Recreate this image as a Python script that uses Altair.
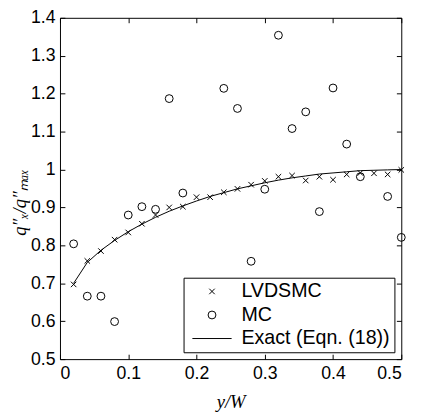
import altair as alt
import pandas as pd

# ---- data ----
x_lv = [0.02, 0.04, 0.06, 0.08, 0.10, 0.12, 0.14, 0.16, 0.18, 0.20, 0.22, 0.24, 0.26,
        0.28, 0.30, 0.32, 0.34, 0.36, 0.38, 0.40, 0.42, 0.44, 0.46, 0.48, 0.50]
lv = [0.697, 0.759, 0.785, 0.815, 0.834, 0.857, 0.880, 0.900, 0.902, 0.927, 0.927, 0.940, 0.949,
      0.960, 0.970, 0.981, 0.984, 0.971, 0.981, 0.973, 0.987, 0.991, 0.990, 0.987, 0.999]

x_mc = [0.02, 0.04, 0.06, 0.08, 0.10, 0.12, 0.14, 0.16, 0.18, 0.24, 0.26, 0.28, 0.30,
        0.32, 0.34, 0.36, 0.38, 0.40, 0.42, 0.44, 0.48, 0.50]
mc = [0.804, 0.666, 0.666, 0.599, 0.880, 0.902, 0.895, 1.187, 0.938, 1.214, 1.161, 0.758, 0.948,
      1.354, 1.108, 1.152, 0.889, 1.215, 1.067, 0.981, 0.929, 0.821]

x_ex = [0.02, 0.04, 0.06, 0.08, 0.10, 0.12, 0.14, 0.16, 0.18, 0.20, 0.22, 0.24, 0.26,
        0.28, 0.30, 0.32, 0.34, 0.36, 0.38, 0.40, 0.42, 0.44, 0.46, 0.48, 0.50]
ex = [0.700, 0.755, 0.787, 0.813, 0.836, 0.856, 0.874, 0.890, 0.904, 0.917, 0.929, 0.939, 0.949,
      0.957, 0.965, 0.972, 0.978, 0.983, 0.988, 0.991, 0.994, 0.997, 0.998, 0.999, 1.000]

series_names = ["LVDSMC", "MC", "Exact (Eqn. (18))"]
x_ticks = [0, 0.1, 0.2, 0.3, 0.4, 0.5]
y_ticks = [0.5, 0.6, 0.7, 0.8, 0.9, 1.0, 1.1, 1.2, 1.3, 1.4]

pts = pd.DataFrame({
    "x": x_lv + x_mc,
    "y": lv + mc,
    "series": [series_names[0]] * len(lv) + [series_names[1]] * len(mc),
})
exact = pd.DataFrame({"x": x_ex, "y": ex})

X_PATH = "M-0.7,-0.7L0.7,0.7M-0.7,0.7L0.7,-0.7"
LINE_PATH = "M-5,0L5,0"

SANS = "Liberation Sans"
SERIF = "Liberation Serif"

xs = alt.Scale(domain=[0, 0.5], nice=False, zero=False)
ys = alt.Scale(domain=[0.5, 1.4], nice=False, zero=False)

common = dict(offset=-5, tickSize=5, domain=False, grid=False, tickColor="black",
              tickWidth=1, labelFont=SANS, labelFontSize=18, labelColor="black")

points = alt.Chart(pts).mark_point(filled=False, size=64, color="black", strokeWidth=1,
                                   opacity=1).encode(
    x=alt.X("x:Q", scale=xs,
            axis=alt.Axis(orient="bottom", values=x_ticks, format=".1~f", title="y/W",
                          labelPadding=6, titleFont=SERIF, titleFontStyle="italic",
                          titleFontSize=19, titleFontWeight="normal", titleColor="black",
                          titlePadding=10, **common)),
    y=alt.Y("y:Q", scale=ys,
            axis=alt.Axis(orient="left", values=y_ticks, format=".1~f",
                          title="q″ₓ/q″ₘₐₓ", labelPadding=5, titleFont=SERIF,
                          titleFontStyle="italic", titleFontSize=19, titleFontWeight="normal",
                          titleColor="black", titleX=-46, titleY=188, titleAlign="center",
                          titleBaseline="middle", **common)),
    shape=alt.Shape("series:N",
                    scale=alt.Scale(domain=series_names, range=[X_PATH, "circle", LINE_PATH]),
                    legend=alt.Legend(title=None, orient="bottom-right", offset=7,
                                      strokeColor="black", fillColor="white", padding=4,
                                      labelFont=SANS, labelFontSize=20, labelColor="black",
                                      rowPadding=4, symbolSize=64, symbolStrokeColor="black",
                                      symbolStrokeWidth=1, symbolFillColor="transparent",
                                      symbolOffset=15, labelOffset=20)),
)

line = alt.Chart(exact).mark_line(color="black", strokeWidth=1).encode(
    x=alt.X("x:Q", scale=xs,
            axis=alt.Axis(orient="top", values=x_ticks, labels=False, title=None, **common)),
    y=alt.Y("y:Q", scale=ys,
            axis=alt.Axis(orient="right", values=y_ticks, labels=False, title=None, **common)),
)

chart = alt.layer(line, points).resolve_scale(
    x="independent", y="independent"
).properties(
    width=348, height=348,
    padding={"left": 53, "top": 6, "right": 15, "bottom": 55},
    autosize=alt.AutoSizeParams(type="none"),
).configure_view(stroke="black", strokeWidth=1)

chart.save("out.html", embed_options={"renderer": "svg", "actions": False})
